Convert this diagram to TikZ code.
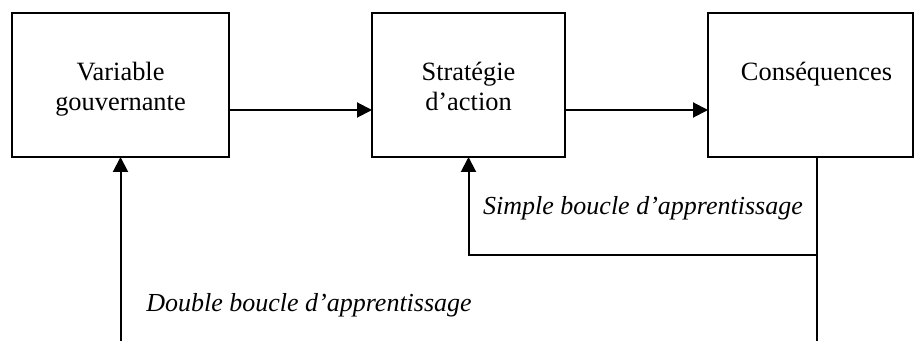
\documentclass[tikz,border=0pt]{standalone}
\usepackage{fontspec}
\setmainfont{Liberation Serif}
\usetikzlibrary{positioning,arrows.meta}
\tikzset{
  arrow/.style={-{Triangle[length=7.5pt,width=7.5pt]}, line width=1pt, draw=black},
  loopline/.style={line width=1pt, draw=black},
  block/.style={
    draw=black,
    line width=1pt,
    rectangle,
    minimum height=72pt,
    inner sep=0pt,
    outer sep=0pt
  },
  blocktext/.style={align=center, inner sep=0pt, font=\fontsize{13.2}{15}\selectfont},
  looplabel/.style={inner sep=0pt, font=\fontsize{13}{15}\selectfont\itshape}
}

\begin{document}
\begin{tikzpicture}[node distance=71.5pt]
\useasboundingbox (0,0) rectangle (457.5pt,-170.5pt);

\node[block, minimum width=108.5pt] (var) at (60.25pt,-42.5pt) {};
\node[block, minimum width=96.5pt, right=of var] (strat) {};
\node[block, minimum width=102.5pt, right=of strat] (cons) {};

% Texts, hung from the top of each box
\node[blocktext, below=24.5pt of var.north] (var-t) {Variable\\gouvernante};
\node[blocktext, below=24.5pt of strat.north] (strat-t) {Stratégie\\d’action};
\node[blocktext, below=24.5pt of cons.north, xshift=3pt] (cons-t) {Conséquences};

% Main chain
\draw[arrow] ([yshift=-12.5pt]var.east) -- ([yshift=-12.5pt]strat.west);
\draw[arrow] ([yshift=-12.5pt]strat.east) -- ([yshift=-12.5pt]cons.west);

% Feedback loops
\coordinate (cons-out) at ([xshift=3.25pt]cons.south);
\coordinate (split) at ([yshift=-49pt]cons-out);
\coordinate (cons-end) at ([yshift=-92pt]cons-out);
\coordinate (var-in) at ([yshift=-92pt]var.south);

\draw[loopline] (cons-out) -- (cons-end);
\draw[arrow] (split) -| (strat.south);
\draw[arrow] (var-in) -- (var.south);

\node[looplabel, anchor=base] (simple) at (321.5pt,-107.5pt) {Simple boucle d’apprentissage};
\node[looplabel, anchor=base] (double) at (154.5pt,-156pt) {Double boucle d’apprentissage};

\end{tikzpicture}
\end{document}
